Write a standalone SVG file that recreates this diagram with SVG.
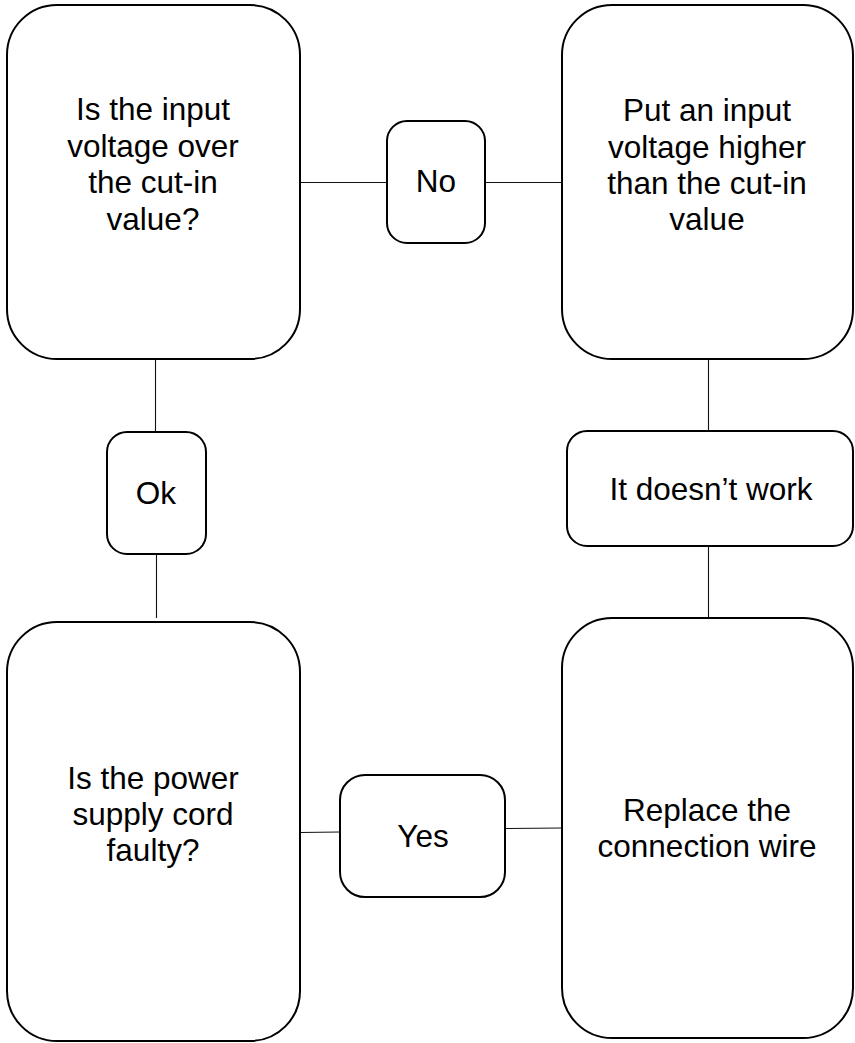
<svg xmlns="http://www.w3.org/2000/svg" width="855" height="1043" viewBox="0 0 855 1043">
<style>
.box{fill:#fff;stroke:#000;stroke-width:2}
.t{font-family:"Liberation Sans",Arial,sans-serif;font-size:31.5px;fill:#000;text-anchor:middle}
.c{stroke:#111;stroke-width:1.1;fill:none}
</style>
<rect width="855" height="1043" fill="#fff"/>
<g id="connectors">
<line class="c" x1="300" y1="182.5" x2="387" y2="182.5"/>
<line class="c" x1="485" y1="182.5" x2="562" y2="182.5"/>
<line class="c" x1="155.5" y1="360" x2="155.5" y2="432"/>
<line class="c" x1="156.5" y1="554" x2="156.5" y2="618"/>
<line class="c" x1="708.5" y1="359" x2="708.5" y2="431"/>
<line class="c" x1="708.5" y1="546" x2="708.5" y2="618"/>
<line class="c" x1="300" y1="832.5" x2="340" y2="832"/>
<line class="c" x1="505" y1="828.5" x2="562" y2="828"/>
</g>
<g id="n1">
<rect class="box" x="7" y="5" width="293" height="354" rx="50"/>
<text class="t" x="153" y="120">Is the input</text>
<text class="t" x="153" y="157">voltage over</text>
<text class="t" x="153" y="193">the cut-in</text>
<text class="t" x="153" y="230">value?</text>
</g>
<g id="n2">
<rect class="box" x="562" y="5" width="291" height="354" rx="50"/>
<text class="t" x="707" y="121">Put an input</text>
<text class="t" x="707" y="158">voltage higher</text>
<text class="t" x="707" y="194">than the cut-in</text>
<text class="t" x="707" y="230">value</text>
</g>
<g id="n3">
<rect class="box" x="387" y="121" width="98" height="122" rx="20"/>
<text class="t" x="436" y="192">No</text>
</g>
<g id="n4">
<rect class="box" x="107" y="432" width="99" height="122" rx="20"/>
<text class="t" x="156" y="504">Ok</text>
</g>
<g id="n5">
<rect class="box" x="567" y="431" width="286" height="115" rx="20"/>
<text class="t" x="711" y="500">It doesn’t work</text>
</g>
<g id="n6">
<rect class="box" x="7" y="622" width="293" height="419" rx="50"/>
<text class="t" x="153" y="789">Is the power</text>
<text class="t" x="153" y="825">supply cord</text>
<text class="t" x="153" y="861">faulty?</text>
</g>
<g id="n7">
<rect class="box" x="562" y="618" width="291" height="420" rx="50"/>
<text class="t" x="707" y="821">Replace the</text>
<text class="t" x="707" y="857">connection wire</text>
</g>
<g id="n8">
<rect class="box" x="340" y="775" width="165" height="122" rx="25"/>
<text class="t" x="423" y="847">Yes</text>
</g>
</svg>
